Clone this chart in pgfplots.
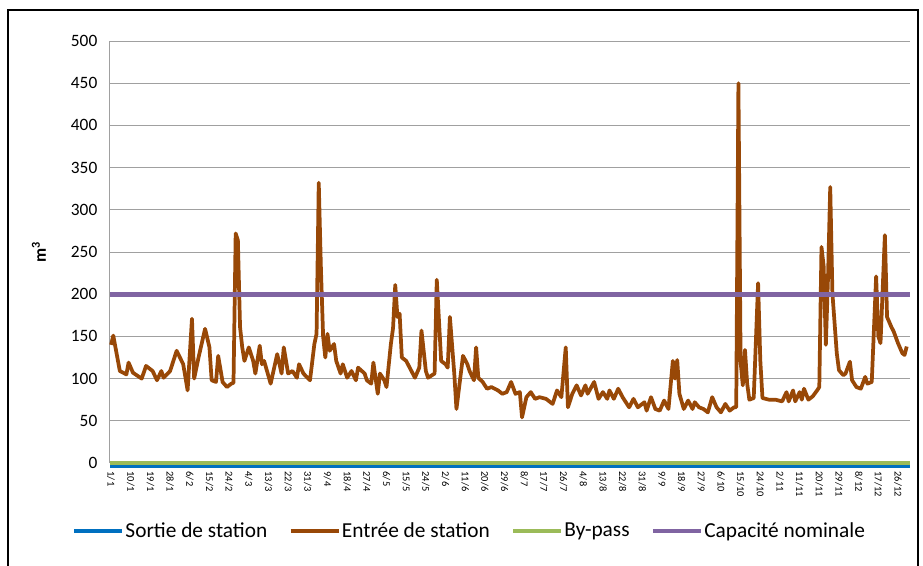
\documentclass[border=0pt]{standalone}
\usepackage{fontspec}
\setmainfont{Carlito}
\usepackage{pgfplots}
\pgfplotsset{compat=1.18}
\definecolor{entree}{RGB}{152,72,7}
\definecolor{capa}{RGB}{128,100,162}
\definecolor{bypass}{RGB}{155,187,89}
\definecolor{sortie}{RGB}{0,112,192}
\definecolor{gridc}{RGB}{160,160,160}
\begin{document}
\begin{tikzpicture}
\useasboundingbox (-82.5pt,-76.5pt) rectangle (609.75pt,347.25pt);
\draw[line width=1pt] (-76.5pt,-90pt) rectangle (606pt,339.75pt);
\begin{axis}[
  at={(0,0)}, anchor=south west,
  scale only axis, width=600pt, height=316.5pt,
  xmin=-0.5, xmax=365.5, ymin=0, ymax=500,
  clip=false,
  axis lines*=left,
  axis line style={draw=gridc, line width=0.75pt},
  ymajorgrids, grid style={draw=gridc, line width=0.75pt},
  ytick={0,50,...,500},
  major tick length=0pt,
  /pgf/number format/assume math mode=true,
  y tick label style={font=\fontsize{13}{14}\selectfont, xshift=-6pt},
  xtick={0,9,...,360},
  xticklabels={1/1,10/1,19/1,28/1,6/2,15/2,24/2,4/3,13/3,22/3,31/3,9/4,18/4,27/4,6/5,15/5,24/5,2/6,11/6,20/6,29/6,8/7,17/7,26/7,4/8,13/8,22/8,31/8,9/9,18/9,27/9,6/10,15/10,24/10,2/11,11/11,20/11,29/11,8/12,17/12,26/12},
  x tick label style={rotate=-90, anchor=west, font=\fontsize{7.8}{8}\selectfont, xshift=3pt},
  ylabel={\textbf{m\textsuperscript{3}}},
  ylabel style={font=\fontsize{13}{14}\selectfont},
  ylabel shift=12pt,
  legend columns=4,
  legend style={at={(0.449,-0.161)}, anchor=center, draw=none, fill=none,
    font=\fontsize{16}{17}\selectfont,
    nodes={inner xsep=1pt},
    /tikz/every even column/.append style={column sep=15pt}},
  legend image code/.code={\draw[#1] (0pt,0pt) -- (36pt,0pt);},
]
\addplot[sortie, line width=3pt, yshift=-2.4pt, forget plot] coordinates {(-0.5,0) (365.5,0)};
\addplot[entree, line width=2.8pt, line join=round, forget plot] coordinates {
(0,140) (1,151) (4,109) (7,105) (8,119) (10,107) (14,100) (16,115) (19,109) (21,98)
(23,109) (24,101) (27,109) (30,133) (33,117) (35,86) (37,171) (38,100) (40,125) (43,159)
(45,137) (46,98) (48,96) (49,127) (51,96) (53,90) (55,94) (56,95) (57,272) (58,264)
(59,161) (60,137) (61,121) (63,137) (65,121) (66,106) (68,139) (69,117) (70,121) (73,94)
(76,129) (78,106) (79,137) (81,106) (83,109) (85,101) (86,117) (88,106) (91,98) (93,141)
(94,153) (95,332) (96,230) (97,150) (98,125) (99,153) (100,133) (102,141) (103,121) (105,106)
(106,117) (108,101) (110,109) (112,98) (113,113) (116,106) (117,98) (119,94) (120,119) (122,82)
(123,106) (125,98) (126,90) (128,141) (129,160) (130,211) (131,173) (132,177) (133,125) (135,121)
(137,111) (139,101) (141,113) (142,157) (144,109) (145,101) (148,106) (149,217) (151,121) (153,117)
(154,113) (155,173) (157,106) (158,64) (160,106) (161,127) (163,117) (164,109) (166,98) (167,137)
(168,101) (170,96) (172,88) (174,90) (177,86) (179,82) (181,84) (183,96) (185,82) (187,84)
(188,54) (190,78) (192,84) (194,76) (196,78) (199,76) (202,70) (204,86) (206,78) (208,137)
(209,66) (211,82) (213,92) (215,80) (217,92) (218,82) (221,96) (223,76) (225,84) (227,76)
(228,86) (230,76) (232,88) (234,78) (237,66) (239,76) (241,66) (244,72) (245,62) (247,78)
(249,64) (251,62) (253,74) (255,64) (257,121) (258,100) (259,122) (260,82) (262,64) (264,74)
(266,64) (267,72) (269,66) (271,64) (273,60) (275,78) (277,66) (279,60) (281,70) (283,62)
(285,66) (286,66) (287,450) (288,120) (289,92) (290,134) (291,94) (292,75) (294,77) (296,213)
(297,122) (298,77) (301,75) (304,75) (307,73) (309,84) (310,73) (312,86) (313,73) (315,84)
(316,75) (317,88) (319,75) (321,79) (323,86) (324,90) (325,256) (326,233) (327,140) (328,221)
(329,327) (330,201) (332,130) (333,110) (335,104) (336,106) (338,120) (339,98) (341,90) (343,88)
(345,102) (346,94) (348,96) (350,221) (351,150) (352,142) (354,270) (355,173) (357,161) (358,156)
(360,142) (362,130) (363,128) (364,138)
};
\addplot[bypass, line width=3.6pt, forget plot] coordinates {(-0.5,0) (365.5,0)};
\addplot[capa, line width=3.8pt, forget plot] coordinates {(-0.5,200) (365.5,200)};
\addlegendimage{sortie, line width=3pt}
\addlegendentry{Sortie de station}
\addlegendimage{entree, line width=3pt}
\addlegendentry{Entrée de station}
\addlegendimage{bypass, line width=3pt}
\addlegendentry{By-pass}
\addlegendimage{capa, line width=3pt}
\addlegendentry{Capacité nominale}
\end{axis}
\end{tikzpicture}
\end{document}
